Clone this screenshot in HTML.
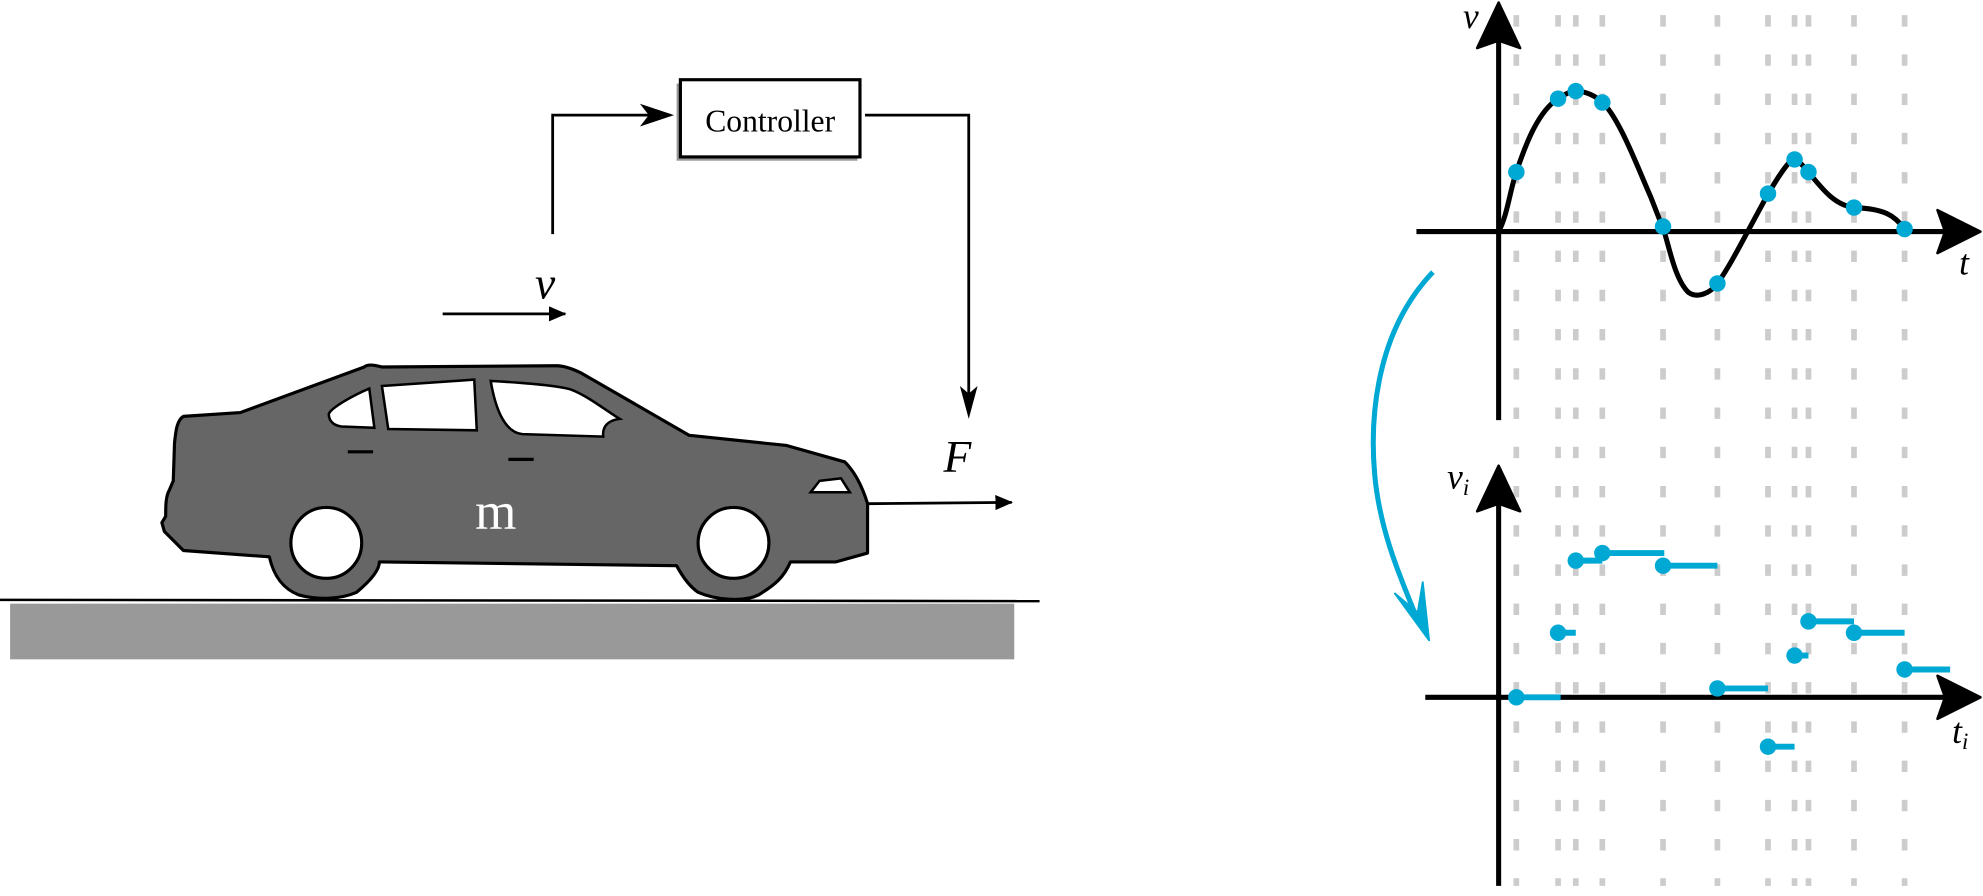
<!DOCTYPE html>
<html><head><meta charset="utf-8"><style>html,body{margin:0;padding:0;background:#fff}svg{display:block}</style></head>
<body>
<svg width="1983" height="896" viewBox="0 0 1568 708" xmlns="http://www.w3.org/2000/svg" preserveAspectRatio="none">
<defs>
<marker id="ah" markerWidth="14" markerHeight="12" refX="13" refY="6" orient="auto" markerUnits="userSpaceOnUse"><path d="M0,0 L14,6 L0,12 Z" fill="#000"/></marker>
</defs>
<rect x="8" y="477" width="794" height="44" fill="#999"/>
<line x1="0" y1="474" x2="822" y2="475" stroke="#000" stroke-width="2"/>
<path d="M130,420 L145,435 L213,440 C217,458 226,466 236,470 C250,474 268,474 282,468 C294,458 300,450 300,444 L535,447 C541,458 546,464 552,468 C566,474 588,476 600,470 C613,462 620,456 625,444 L661,444 L686,437 L686,398 C682,385 676,373 668,365 L622,352 L545,344 L460,295 C452,291 446,289 440,289 L302,290 C295,288 290,288 288,290 L190,326 L145,329 C140,332 139,340 138,350 L137,380 L134,387 C131,392 131,400 131,408 L128,413 Z" fill="#666" stroke="#000" stroke-width="2.5" stroke-linejoin="round"/>
<circle cx="258" cy="429" r="28" fill="#fff" stroke="#000" stroke-width="2.5"/>
<circle cx="580" cy="429" r="28" fill="#fff" stroke="#000" stroke-width="2.5"/>
<path d="M292,307 L296,338 L270,337 C262,336 260,331 260,327 C262,322 280,312 292,307 Z" fill="#fff" stroke="#000" stroke-width="2"/>
<path d="M302,305 L375,300 L377,340 L307,339 Z" fill="#fff" stroke="#000" stroke-width="2"/>
<path d="M388,301 C405,302 440,304 452,308 C465,313 480,325 490,331 C482,332 476,336 477,345 L413,343 C400,342 392,325 388,301 Z" fill="#fff" stroke="#000" stroke-width="2"/>
<line x1="275" y1="357" x2="295" y2="357" stroke="#000" stroke-width="2.5"/>
<line x1="402" y1="363" x2="422" y2="363" stroke="#000" stroke-width="2.5"/>
<path d="M648,380 L665,378 L672,389 L641,389 Z" fill="#fff" stroke="#000" stroke-width="2"/>
<text x="392" y="418" fill="#fff" font-family="Liberation Serif, serif" font-size="42" text-anchor="middle">m</text>
<line x1="350" y1="248" x2="447" y2="248" stroke="#000" stroke-width="2.2" marker-end="url(#ah)"/>
<text x="431" y="236" font-family="Liberation Serif, serif" font-style="italic" font-size="36" text-anchor="middle">v</text>
<rect x="535" y="66" width="143" height="61" fill="#999"/>
<rect x="538" y="63" width="142" height="61" fill="#fff" stroke="#000" stroke-width="2.5"/>
<text x="609" y="104" font-family="Liberation Serif, serif" font-size="25" text-anchor="middle">Controller</text>
<polyline points="437,185 437,91 530,91" fill="none" stroke="#000" stroke-width="2.2"/>
<path d="M533,91 L506,82 L513,91 L506,100 Z" fill="#000"/>
<polyline points="684,91 766,91 766,320" fill="none" stroke="#000" stroke-width="2.2"/>
<path d="M766,331 L759,305 L766,311 L773,305 Z" fill="#000"/>
<text x="757" y="373" font-family="Liberation Serif, serif" font-style="italic" font-size="36" text-anchor="middle">F</text>
<line x1="686" y1="398" x2="800" y2="397" stroke="#000" stroke-width="2.2" marker-end="url(#ah)"/>
<g stroke="#ccc" stroke-width="4.5" stroke-dasharray="9 22">
<line x1="1199" y1="12" x2="1199" y2="700"/><line x1="1232" y1="12" x2="1232" y2="700"/>
<line x1="1246" y1="12" x2="1246" y2="700"/><line x1="1267" y1="12" x2="1267" y2="700"/>
<line x1="1315" y1="12" x2="1315" y2="700"/><line x1="1358" y1="12" x2="1358" y2="700"/>
<line x1="1398" y1="12" x2="1398" y2="700"/><line x1="1419" y1="12" x2="1419" y2="700"/>
<line x1="1430" y1="12" x2="1430" y2="700"/><line x1="1466" y1="12" x2="1466" y2="700"/>
<line x1="1506" y1="12" x2="1506" y2="700"/>
</g>
<line x1="1185" y1="332" x2="1185" y2="30" stroke="#000" stroke-width="4"/>
<path d="M1185,2 L1202,38 L1185,32 L1168,38 Z" fill="#000" stroke="#000" stroke-width="2" stroke-linejoin="round"/>
<line x1="1120" y1="183" x2="1540" y2="183" stroke="#000" stroke-width="4"/>
<path d="M1566,183 L1532,166 L1538,183 L1532,200 Z" fill="#000" stroke="#000" stroke-width="2" stroke-linejoin="round"/>
<text x="1163" y="22" font-family="Liberation Serif, serif" font-style="italic" font-size="28" text-anchor="middle">v</text>
<text x="1553" y="217" font-family="Liberation Serif, serif" font-style="italic" font-size="28" text-anchor="middle">t</text>
<path d="M1185,183 C1192,170 1194,150 1199,136 C1206,115 1216,88 1232,78 C1238,74 1242,72 1246,72 C1254,72 1262,76 1267,81 C1280,92 1296,135 1305,155 C1311,170 1313,176 1315,180 C1320,195 1324,220 1335,231 C1342,236 1352,232 1358,224 C1368,210 1378,190 1390,168 C1398,153 1408,135 1417,126 C1423,126 1426,132 1430,136 C1440,148 1450,162 1466,164 C1490,165 1498,170 1506,181" fill="none" stroke="#000" stroke-width="4" stroke-linecap="round"/>
<g fill="#00a8d4">
<circle cx="1199" cy="136" r="6.5"/><circle cx="1232" cy="78" r="6.5"/><circle cx="1246" cy="72" r="6.5"/>
<circle cx="1267" cy="81" r="6.5"/><circle cx="1315" cy="179" r="6.5"/><circle cx="1358" cy="224" r="6.5"/>
<circle cx="1398" cy="153" r="6.5"/><circle cx="1419" cy="126" r="6.5"/><circle cx="1430" cy="136" r="6.5"/>
<circle cx="1466" cy="164" r="6.5"/><circle cx="1506" cy="181" r="6.5"/>
</g>
<line x1="1185" y1="700" x2="1185" y2="396" stroke="#000" stroke-width="4"/>
<path d="M1185,368 L1202,404 L1185,398 L1168,404 Z" fill="#000" stroke="#000" stroke-width="2" stroke-linejoin="round"/>
<line x1="1127" y1="551" x2="1540" y2="551" stroke="#000" stroke-width="4"/>
<path d="M1566,551 L1532,534 L1538,551 L1532,568 Z" fill="#000" stroke="#000" stroke-width="2" stroke-linejoin="round"/>
<text x="1153" y="386" font-family="Liberation Serif, serif" font-style="italic" font-size="28" text-anchor="middle">v<tspan font-size="18" dy="5">i</tspan></text>
<text x="1550" y="587" font-family="Liberation Serif, serif" font-style="italic" font-size="28" text-anchor="middle">t<tspan font-size="18" dy="5">i</tspan></text>
<g stroke="#00a8d4" stroke-width="4.7">
<line x1="1199" y1="551" x2="1234" y2="551"/><line x1="1232" y1="500" x2="1246" y2="500"/>
<line x1="1246" y1="443" x2="1267" y2="443"/><line x1="1267" y1="437" x2="1316" y2="437"/>
<line x1="1315" y1="447" x2="1358" y2="447"/><line x1="1358" y1="544" x2="1398" y2="544"/>
<line x1="1398" y1="590" x2="1419" y2="590"/><line x1="1419" y1="518" x2="1430" y2="518"/>
<line x1="1430" y1="491" x2="1466" y2="491"/><line x1="1466" y1="500" x2="1506" y2="500"/>
<line x1="1506" y1="529" x2="1542" y2="529"/>
</g>
<g fill="#00a8d4">
<circle cx="1199" cy="551" r="6.5"/><circle cx="1232" cy="500" r="6.5"/><circle cx="1246" cy="443" r="6.5"/>
<circle cx="1267" cy="437" r="6.5"/><circle cx="1315" cy="447" r="6.5"/><circle cx="1358" cy="544" r="6.5"/>
<circle cx="1398" cy="590" r="6.5"/><circle cx="1419" cy="518" r="6.5"/><circle cx="1430" cy="491" r="6.5"/>
<circle cx="1466" cy="500" r="6.5"/><circle cx="1506" cy="529" r="6.5"/>
</g>
<path d="M1133,215 C1088,262 1083,330 1087,375 C1091,420 1108,458 1121,490" fill="none" stroke="#00a8d4" stroke-width="4"/>
<path d="M1130,506 L1103,469 L1121,484 L1125,460 Z" fill="#00a8d4" stroke="#00a8d4" stroke-width="1.5" stroke-linejoin="round"/>
</svg>
</body></html>
